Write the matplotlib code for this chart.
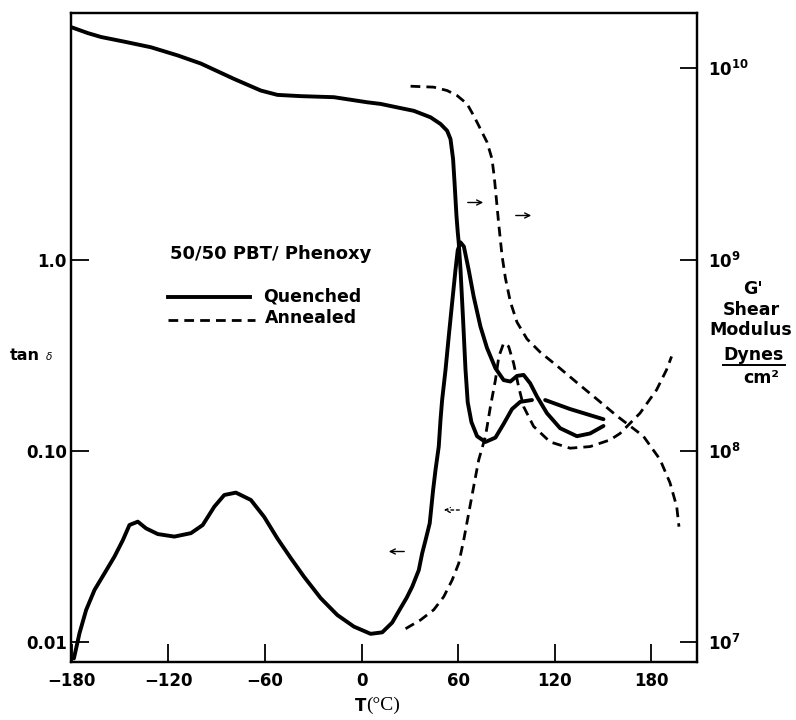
import matplotlib
matplotlib.use('Agg')
import matplotlib.pyplot as plt
import matplotlib.patches as mpatches
import numpy as np
from matplotlib.lines import Line2D
from matplotlib.ticker import FixedLocator, NullLocator, FixedFormatter

# ---------------- data ----------------
# Quenched, tan delta (left axis)
T_q_tan = [-178.7, -175.2, -171.1, -165.9, -159.7, -153.5, -148.3, -144.2, -139.0, -133.9,
           -126.6, -116.3, -106.0, -98.7, -91.5, -85.3, -78.1, -68.8, -60.6, -52.3,
           -44.0, -35.8, -25.4, -15.1, -4.8, 5.6, 12.8, 19.0, 24.2, 28.0,
           31.4, 35.5, 37.6, 39.7, 42.3, 44.4, 45.9, 47.9, 49.0, 50.0,
           52.1, 54.1, 56.2, 58.3, 59.7, 61.4, 63.5, 66.5, 69.6, 73.8,
           77.9, 83.1, 88.2, 92.4, 96.5, 100.6, 104.7, 108.9, 115.1, 123.3,
           133.7, 141.9, 150.2]
tan_q = [0.00818, 0.0111, 0.01466, 0.01866, 0.0228, 0.0279, 0.0340, 0.0408, 0.0425, 0.0392,
         0.0366, 0.0355, 0.0370, 0.0408, 0.0509, 0.0586, 0.0603, 0.0552, 0.0451, 0.0347,
         0.0274, 0.0219, 0.0169, 0.0138, 0.0120, 0.0110, 0.0112, 0.0126, 0.0150, 0.0170,
         0.0194, 0.0237, 0.0290, 0.0340, 0.0417, 0.0622, 0.0793, 0.105, 0.145, 0.184,
         0.264, 0.395, 0.592, 0.883, 1.12, 1.23, 1.17, 0.883, 0.640, 0.446,
         0.344, 0.270, 0.234, 0.230, 0.246, 0.249, 0.225, 0.192, 0.157, 0.131,
         0.119, 0.123, 0.1346]

# Quenched, shear modulus G' (right axis, dyn/cm^2); NaN marks the gap in the trace
T_q_G = [-180, -170, -161.8, -147.3, -130.8, -114.3, -99.8, -79.1, -62.6, -52.3,
         -37.8, -17.2, 3.5, 11.8, 24.2, 32.4, 42.8, 49.0, 53.1, 55.2,
         56.8, 57.7, 58.9, 59.7, 60.3, 61.4, 63.0, 64.5, 65.9, 68.2,
         71.7, 76.9, 83.1, 88.2, 93.4, 98.5, 105.8, 110, 114.0, 129.5,
         150.2]
G_q = [1.64e10, 1.53e10, 1.46e10, 1.38e10, 1.29e10, 1.17e10, 1.06e10, 8.8e9, 7.66e9, 7.27e9,
       7.16e9, 7.07e9, 6.65e9, 6.52e9, 6.2e9, 6.0e9, 5.55e9, 5.12e9, 4.72e9, 4.27e9,
       3.36e9, 2.54e9, 1.70e9, 1.39e9, 1.23e9, 8.9e8, 4.88e8, 2.67e8, 1.79e8, 1.41e8,
       1.19e8, 1.11e8, 1.17e8, 1.38e8, 1.65e8, 1.80e8, 1.84e8, np.nan, 1.84e8, 1.65e8,
       1.46e8]

# Annealed, tan delta (left axis)
T_a_tan = [27.3, 36.6, 44.8, 51.0, 56.2, 60.3, 63.4, 66.5, 69.6, 72.7,
           76.9, 80.0, 83.1, 85.2, 88.2, 91.3, 94.4, 97.5, 100.6, 106.8,
           117.1, 129.5, 141.9, 154.3, 160.5, 172.9, 183.2, 189.4, 192.5]
tan_a = [0.0117, 0.0130, 0.0147, 0.0172, 0.0210, 0.0257, 0.0340, 0.0470, 0.0649, 0.0893,
         0.1186, 0.170, 0.234, 0.310, 0.365, 0.351, 0.287, 0.216, 0.170, 0.134,
         0.111, 0.103, 0.105, 0.1138, 0.123, 0.157, 0.208, 0.265, 0.311]

# Annealed, shear modulus G' (right axis)
T_a_G = [30.4, 44.8, 53.1, 59.3, 65.5, 69.6, 73.8, 77.9, 81.0, 82.5,
         83.7, 85.1, 87.2, 89.3, 92.4, 96.5, 102.7, 111.0, 121.3, 133.7,
         146.1, 158.5, 175.0, 185.3, 191.5, 195.7, 197.1]
G_a = [8.07e9, 7.98e9, 7.66e9, 7.21e9, 6.52e9, 5.66e9, 4.82e9, 4.11e9, 3.36e9, 2.64e9,
       2.07e9, 1.55e9, 1.05e9, 8.0e8, 6.0e8, 4.7e8, 3.84e8, 3.27e8, 2.78e8, 2.27e8,
       1.86e8, 1.52e8, 1.19e8, 9.0e7, 6.8e7, 5.1e7, 4.0e7]

x_ticks = [-180, -120, -60, 0, 60, 120, 180]
x_labels = ['\u2212180', '\u2212120', '\u221260', '0', '60', '120', '180']
tan_ticks = [0.01, 0.1, 1.0]
tan_labels = ['0.01', '0.10', '1.0']
G_ticks = [1e7, 1e8, 1e9, 1e10]
G_labels = [r'$\mathbf{10^{7}}$', r'$\mathbf{10^{8}}$', r'$\mathbf{10^{9}}$', r'$\mathbf{10^{10}}$']

# ---------------- figure ----------------
FONT = ['DejaVu Sans']
plt.rcParams['font.family'] = FONT
plt.rcParams['mathtext.fontset'] = 'dejavusans'

W, H = 796, 720
fig = plt.figure(figsize=(W / 100, H / 100), dpi=100)
ax = fig.add_axes([71 / W, 58 / H, 626 / W, 649 / H])
ax2 = ax.twinx()

ylo, yhi = 10 ** -2.106, 10 ** 1.29
ax.set_xlim(-180.5, 208.3)
ax.set_yscale('log')
ax.set_ylim(ylo, yhi)
ax2.set_yscale('log')
ax2.set_ylim(ylo * 1e9, yhi * 1e9)

solid = dict(color='black', lw=2.8, solid_capstyle='round', solid_joinstyle='round')
dashed = dict(color='black', lw=2.0, linestyle=(0, (3.5, 2.2)))

ax.plot(T_q_tan, tan_q, **solid)
ax2.plot(T_q_G, G_q, **solid)
ax.plot(T_a_tan, tan_a, **dashed)
ax2.plot(T_a_G, G_a, **dashed)

for a in (ax, ax2):
    for sp in a.spines.values():
        sp.set_linewidth(1.6)

ax.xaxis.set_major_locator(FixedLocator(x_ticks))
ax.xaxis.set_major_formatter(FixedFormatter(x_labels))
ax.yaxis.set_major_locator(FixedLocator(tan_ticks))
ax.yaxis.set_major_formatter(FixedFormatter(tan_labels))
ax.yaxis.set_minor_locator(NullLocator())
ax2.yaxis.set_major_locator(FixedLocator(G_ticks))
ax2.yaxis.set_major_formatter(FixedFormatter(G_labels))
ax2.yaxis.set_minor_locator(NullLocator())

ax.tick_params(axis='x', direction='in', length=13, width=1.3, pad=7, labelsize=12)
ax.tick_params(axis='y', direction='in', length=13, width=1.3, pad=3, labelsize=12)
ax2.tick_params(axis='y', direction='in', length=12, width=1.3, pad=8, labelsize=12)
for lab in ax.get_xticklabels() + ax.get_yticklabels():
    lab.set_fontweight('bold')

# ---------------- text ----------------
def fx(px):
    return px / W

def fy(py):
    return 1 - py / H

# legend block
fig.text(fx(170), fy(254), '50/50 PBT/ Phenoxy', fontsize=13, fontweight='bold',
         ha='left', va='center')
fig.add_artist(Line2D([fx(168), fx(250)], [fy(297), fy(297)], color='black', lw=2.8))
fig.text(fx(263), fy(296), 'Quenched', fontsize=12.5, fontweight='bold', ha='left', va='center')
fig.add_artist(Line2D([fx(168), fx(255)], [fy(320), fy(320)], color='black', lw=2.0,
                      linestyle=(0, (3.5, 2.2))))
fig.text(fx(265), fy(318), 'Annealed', fontsize=12.5, fontweight='bold', ha='left', va='center')

# axis titles
fig.text(fx(10), fy(356), 'tan', fontsize=11.5, fontweight='bold', ha='left', va='center')
fig.text(fx(46), fy(357), '\u03b4', fontsize=7.5, fontstyle='italic', ha='left', va='center')
fig.text(fx(366), fy(706), 'T', fontsize=12, fontweight='bold', ha='right', va='center')
fig.text(fx(366), fy(705), '(\u00b0C)', fontsize=14, family=['Liberation Serif', 'DejaVu Serif'],
         ha='left', va='center')

rt = dict(fontsize=12.5, fontweight='bold', ha='center', va='center')
fig.text(fx(753), fy(289), "G'", **rt)
fig.text(fx(751), fy(310), 'Shear', **rt)
fig.text(fx(751), fy(330), 'Modulus', **rt)
fig.text(fx(754), fy(355), 'Dynes', **rt)
fig.add_artist(Line2D([fx(723), fx(785)], [fy(365), fy(365)], color='black', lw=1.4))
fig.text(fx(761), fy(378), 'cm\u00b2', **rt)

# direction arrows
arrow_kw = dict(arrowstyle='->', color='black', lw=1.0, mutation_scale=9)
for (x0, x1, yy, ls) in [(465, 486, 202.5, '-'), (513, 534, 215.5, '-'),
                         (407, 386, 551.5, '-'), (462, 441, 510, (0, (2, 2)))]:
    kw = dict(arrow_kw)
    kw['linestyle'] = ls
    fig.add_artist(mpatches.FancyArrowPatch(
        (fx(x0), fy(yy)), (fx(x1), fy(yy)), transform=fig.transFigure, **kw))

fig.savefig('out.png', dpi=100)
